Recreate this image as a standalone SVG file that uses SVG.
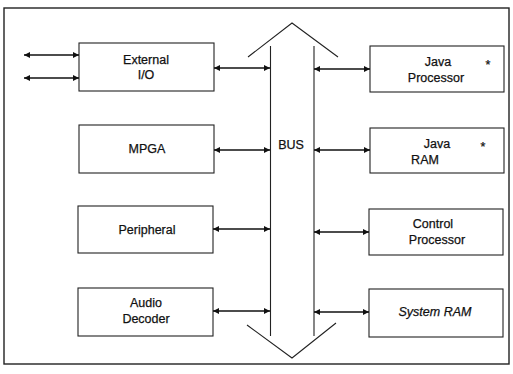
<svg xmlns="http://www.w3.org/2000/svg" width="513" height="374" viewBox="0 0 513 374">
  <defs>
    <marker id="ah" viewBox="0 0 10 10" refX="10" refY="5" markerWidth="7" markerHeight="6" markerUnits="userSpaceOnUse" orient="auto-start-reverse">
      <path d="M0,0 L10,5 L0,10 z" fill="#111"/>
    </marker>
    <style>
      .box { fill: #fff; stroke: #222; stroke-width: 1.1; }
      .frame { fill: #fff; stroke: #222; stroke-width: 1.4; }
      .bus { fill: none; stroke: #222; stroke-width: 1.1; }
      .link { stroke: #111; stroke-width: 1.7; fill: none; marker-start: url(#ah); marker-end: url(#ah); }
      text { font-family: "Liberation Sans", Arial, sans-serif; font-size: 12.5px; fill: #111; stroke: #111; stroke-width: 0.25; text-anchor: middle; }
      .it { font-style: italic; }
    </style>
  </defs>

  <!-- outer frame -->
  <rect class="frame" x="4" y="8" width="505" height="356"/>

  <!-- system bus: double-headed wide arrow -->
  <g id="bus">
    <path class="bus" d="M248,57 L292,23 L338,57"/>
    <path class="bus" d="M247,325 L292,358 L336,323"/>
    <line class="bus" x1="270.5" y1="46" x2="270.5" y2="336"/>
    <line class="bus" x1="314" y1="46" x2="314" y2="336"/>
    <text x="291" y="149">BUS</text>
  </g>

  <g id="external-io">
    <rect class="box" x="79" y="43" width="135" height="48"/>
    <text x="146" y="64">External</text>
    <text x="146" y="79">I/O</text>
  </g>
  <g id="mpga">
    <rect class="box" x="79" y="125" width="135" height="48"/>
    <text x="147" y="153">MPGA</text>
  </g>
  <g id="peripheral">
    <rect class="box" x="78" y="206" width="135" height="47"/>
    <text x="147" y="234">Peripheral</text>
  </g>
  <g id="audio-decoder">
    <rect class="box" x="78" y="288" width="135" height="48"/>
    <text x="146" y="307">Audio</text>
    <text x="146" y="323">Decoder</text>
  </g>

  <g id="java-processor">
    <rect class="box" x="370" y="46" width="134" height="46"/>
    <text x="438" y="66">Java</text>
    <text x="436" y="82">Processor</text>
    <text x="488" y="69">*</text>
  </g>
  <g id="java-ram">
    <rect class="box" x="370" y="128" width="134" height="45"/>
    <text x="437" y="148">Java</text>
    <text x="425" y="164">RAM</text>
    <text x="483" y="151">*</text>
  </g>
  <g id="control-processor">
    <rect class="box" x="369" y="209" width="134" height="46"/>
    <text x="433" y="228">Control</text>
    <text x="437" y="244">Processor</text>
  </g>
  <g id="system-ram">
    <rect class="box" x="369" y="289" width="134" height="48"/>
    <text class="it" x="435" y="316">System RAM</text>
  </g>

  <!-- connectors -->
  <g id="connectors">
    <line class="link" x1="24" y1="55" x2="79" y2="55"/>
    <line class="link" x1="24" y1="78" x2="79" y2="78"/>
    <line class="link" x1="214" y1="68" x2="270" y2="68"/>
    <line class="link" x1="214" y1="150" x2="270" y2="150"/>
    <line class="link" x1="213" y1="229" x2="270" y2="229"/>
    <line class="link" x1="213" y1="311" x2="270" y2="311"/>
    <line class="link" x1="314" y1="69" x2="370" y2="69"/>
    <line class="link" x1="314" y1="150" x2="370" y2="150"/>
    <line class="link" x1="314" y1="232" x2="369" y2="232"/>
    <line class="link" x1="314" y1="312" x2="369" y2="312"/>
  </g>
</svg>
